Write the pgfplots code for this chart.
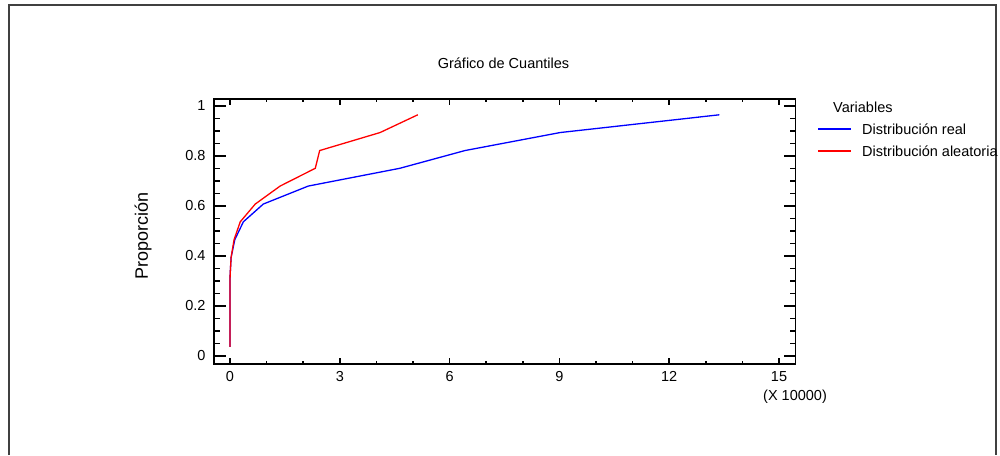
\documentclass[border=0pt]{standalone}
\usepackage{pgfplots}
\pgfplotsset{compat=1.18}
\usepackage{fontspec}
\setmainfont{Liberation Sans}
\newcommand{\fs}{\fontsize{14.5}{17}\selectfont}
\begin{document}
\begin{tikzpicture}[x=1pt,y=1pt]
\useasboundingbox (0,0) rectangle (1000,455);
\draw[line width=1.4pt,color=black!75] (9,0) -- (9,450) -- (996,450) -- (996,0);
\pgfplotsset{
  common/.style={
    scale only axis, width=581.5pt, height=265pt,
    at={(214pt,90.7pt)}, anchor=south west,
    xmin=-0.437, xmax=15.45, ymin=-0.034, ymax=1.026,
    axis line style={line width=1.8pt},
    tick align=inside, tick pos=both,
    tick style={line width=1.5pt, black},
    ticklabel style={font=\fs},
    /pgf/number format/assume math mode=true,
  }
}
\begin{axis}[common,
  xtick={0,3,6,9,12,15}, minor x tick num=2,
  major tick length=6pt, minor tick length=3pt,
  ytick=\empty,
  xticklabel style={yshift=-4pt},
]
\addplot[blue, line width=1.3pt] coordinates {
(0,0.0357) (0,0.107) (0,0.179) (0,0.25) (0.003,0.321) (0.03,0.393)
(0.13,0.464) (0.365,0.536) (0.91,0.607) (2.14,0.679) (4.64,0.75)
(6.42,0.821) (9.02,0.893) (13.37,0.964)};
\addplot[red, line width=1.3pt] coordinates {
(0,0.0357) (0,0.107) (0,0.179) (0,0.25) (0.003,0.321) (0.03,0.393)
(0.11,0.464) (0.28,0.536) (0.69,0.607) (1.37,0.679) (2.33,0.75)
(2.45,0.821) (4.1,0.893) (5.13,0.964)};
\end{axis}
\begin{axis}[common,
  xtick=\empty,
  ytick={0,0.2,0.4,0.6,0.8,1}, minor y tick num=3,
  major tick length=12pt, minor tick length=6pt,
  yticklabel style={xshift=-5pt},
]
\end{axis}
\node[font=\fs] at (503.5,392) {Gráfico de Cuantiles};
\node[font=\fontsize{18}{21}\selectfont, rotate=90] at (143,219) {Proporción};
\node[font=\fs] at (795,58) {(X 10000)};
\node[font=\fs, anchor=west, inner sep=0pt] at (833,348) {Variables};
\draw[blue, line width=1.3pt] (818,326) -- (851,326);
\draw[red, line width=1.3pt] (818,304) -- (851,304);
\node[font=\fs, anchor=west, inner sep=0pt] at (862,326) {Distribución real};
\node[font=\fs, anchor=west, inner sep=0pt] at (862,304) {Distribución aleatoria};
\end{tikzpicture}
\end{document}
